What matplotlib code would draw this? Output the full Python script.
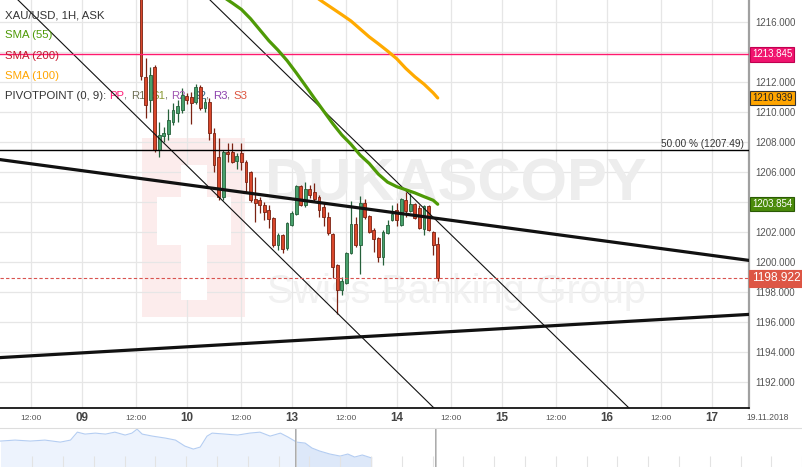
import numpy as np
import matplotlib.pyplot as plt

plt.rcParams['font.family'] = ['Liberation Sans', 'DejaVu Sans']

# hourly XAU/USD bars, index 0 = first bar on screen
bar_open = [1218.80, 1212.33, 1210.80, 1213.00, 1207.47, 1208.40, 1208.53, 1209.33, 1209.93, 1210.13,
            1211.07, 1211.00, 1210.67, 1211.67, 1210.27, 1210.67, 1208.60, 1207.00, 1204.33, 1207.33,
            1207.33, 1206.73, 1207.27, 1206.67, 1206.00, 1204.20, 1204.13, 1203.80, 1203.47, 1202.93,
            1201.13, 1201.80, 1200.93, 1202.47, 1203.20, 1205.07, 1203.80, 1204.87, 1204.67, 1204.33,
            1203.67, 1203.00, 1201.87, 1199.80, 1198.13, 1198.60, 1200.60, 1202.53, 1201.13, 1203.93,
            1203.07, 1202.13, 1201.60, 1200.33, 1201.93, 1202.80, 1203.47, 1202.47, 1204.13, 1203.40,
            1203.87, 1203.60, 1202.20, 1203.73, 1202.00, 1201.20]
bar_high = [1219.50, 1213.60, 1213.00, 1213.13, 1209.33, 1209.00, 1210.20, 1210.60, 1210.80, 1211.60,
            1211.27, 1211.33, 1211.87, 1211.80, 1210.93, 1210.93, 1208.93, 1208.27, 1207.47, 1207.93,
            1207.93, 1207.27, 1207.93, 1206.80, 1206.07, 1205.67, 1204.33, 1204.00, 1203.80, 1203.00,
            1201.93, 1201.87, 1202.67, 1203.40, 1205.13, 1205.13, 1205.33, 1205.13, 1205.27, 1204.47,
            1203.93, 1203.33, 1201.93, 1199.87, 1199.00, 1200.67, 1204.07, 1203.00, 1204.40, 1204.20,
            1203.13, 1202.27, 1201.67, 1202.13, 1202.80, 1203.80, 1203.93, 1204.27, 1204.67, 1204.60,
            1203.93, 1203.80, 1203.80, 1203.80, 1202.07, 1201.67]
bar_low = [1212.13, 1209.60, 1210.00, 1207.33, 1207.00, 1208.00, 1208.13, 1209.13, 1209.33, 1209.93,
           1210.53, 1209.20, 1210.53, 1210.13, 1210.00, 1208.13, 1206.00, 1204.13, 1204.13, 1206.67,
           1206.60, 1206.20, 1206.13, 1204.67, 1204.00, 1202.67, 1203.27, 1202.80, 1202.27, 1201.00,
           1200.80, 1200.60, 1200.80, 1202.40, 1203.13, 1203.73, 1203.67, 1204.27, 1204.00, 1203.00,
           1202.40, 1201.80, 1198.93, 1196.53, 1197.80, 1198.53, 1200.53, 1201.00, 1199.20, 1202.87,
           1201.93, 1200.67, 1200.00, 1199.80, 1201.87, 1202.73, 1202.40, 1202.40, 1203.00, 1203.33,
           1202.87, 1202.20, 1201.80, 1202.07, 1200.47, 1198.73]
bar_close = [1212.40, 1210.47, 1212.47, 1207.47, 1208.47, 1208.60, 1209.47, 1210.13, 1210.40, 1211.13,
             1210.80, 1210.60, 1211.67, 1210.27, 1210.67, 1208.60, 1206.47, 1204.33, 1207.33, 1207.20,
             1206.67, 1207.07, 1206.67, 1205.33, 1204.13, 1203.93, 1203.80, 1203.33, 1202.87, 1201.13,
             1201.80, 1200.87, 1202.60, 1203.27, 1205.07, 1203.80, 1204.87, 1204.47, 1204.20, 1203.47,
             1203.00, 1201.93, 1199.67, 1198.13, 1198.73, 1200.60, 1202.53, 1201.13, 1203.93, 1203.00,
             1202.00, 1201.53, 1200.33, 1202.00, 1202.47, 1203.20, 1202.80, 1204.20, 1203.40, 1203.87,
             1202.93, 1202.27, 1203.73, 1202.13, 1201.13, 1198.922]

sma55_x = [18, 20, 22, 24, 26, 28, 30, 32, 34, 36, 38, 40, 42, 44, 46, 48, 50, 52, 54, 56, 58, 60, 62, 64, 65]
sma55_y = [1217.68, 1217.27, 1216.84, 1216.22, 1215.49, 1214.76, 1214.13, 1213.43, 1212.62, 1211.77,
           1210.91, 1210.07, 1209.23, 1208.47, 1207.85, 1207.13, 1206.57, 1205.86, 1205.33, 1205.03,
           1204.82, 1204.61, 1204.36, 1204.12, 1203.854]
sma100_x = [38, 40, 42, 44, 46, 48, 50, 52, 54, 56, 58, 60, 62, 64, 65]
sma100_y = [1217.73, 1217.31, 1216.90, 1216.49, 1216.07, 1215.54, 1215.01, 1214.55, 1214.07, 1213.56,
            1212.91, 1212.35, 1211.86, 1211.28, 1210.939]

level_sma200 = 1213.845
level_fib50 = 1207.49
last_price = 1198.922

trend_down = [(-30.89, 1206.83), (133.19, 1200.11)]
trend_up = [(-30.89, 1193.63), (133.19, 1196.51)]
channel_lo = [(-26.94, 1217.47), (64.18, 1190.27)]
channel_hi = [(15.12, 1217.47), (106.9, 1190.27)]

tick_pos = [-24, -13, -1, 10, 22, 33, 45, 56, 68, 79, 91, 102, 114, 125]
tick_lab = ["12:00", "09", "12:00", "10", "12:00", "13", "12:00", "14",
            "12:00", "15", "12:00", "16", "12:00", "17"]
y_ticks = [1192, 1194, 1196, 1198, 1200, 1202, 1204, 1206, 1208, 1210, 1212, 1214, 1216]
y_hidden = [1204, 1214]   # covered by the price tags

# navigator (longer history)
nav_t = [-376, -359, -341, -324, -306, -294, -286, -277, -265, -253, -242, -230, -222, -216, -210,
         -198, -183, -171, -160, -150, -142, -134, -128, -113, -98, -84, -72, -60, -48, -39,
         -29, -19, -11, -2, 10, 22, 31, 39, 48, 59]
nav_v = [1220.5, 1221.6, 1220.5, 1221.6, 1219.3, 1221.6, 1230.6, 1228.4, 1229.5, 1228.4, 1230.6,
         1227.3, 1229.5, 1234.0, 1228.4, 1226.1, 1223.9, 1221.6, 1214.8, 1211.4, 1213.7, 1226.1,
         1229.5, 1228.4, 1227.3, 1229.5, 1230.6, 1226.1, 1229.5, 1225.0, 1219.3, 1218.2, 1212.6,
         1209.2, 1205.8, 1203.5, 1205.8, 1202.4, 1204.7, 1201.3]

legend_rows = [("XAU/USD, 1H, ASK", '#333333'), ("SMA (55)", '#4e9a06'),
               ("SMA (200)", '#c4172c'), ("SMA (100)", '#ffa500')]
pivot_parts = [("PP", '#ff1a75'), (", ", '#666666'), ("R1", '#6f6f55'), (", ", '#666666'),
               ("S1", '#8a9a35'), (", ", '#666666'), ("R2", '#a055b0'), (", ", '#666666'),
               ("S2", '#2e6585'), (", ", '#666666'), ("R3", '#8e44ad'), (", ", '#666666'),
               ("S3", '#dd5540')]

W, H = 803, 467
fig = plt.figure(figsize=(W / 100, H / 100), dpi=100)
ax = fig.add_axes([0, 59 / H, 749 / W, 408 / H])
ax.set_xlim(-30.89, 133.19)
ax.set_ylim(1190.27, 1217.47)

# watermark
ax.add_patch(plt.Rectangle((142 / 749, 1 - 317 / 408), 103 / 749, 179 / 408,
                           transform=ax.transAxes, fc='#fcecec', ec='none', zorder=0.5))
ax.add_patch(plt.Rectangle((181 / 749, 1 - 300 / 408), 26 / 749, 135 / 408,
                           transform=ax.transAxes, fc='white', ec='none', zorder=0.6))
ax.add_patch(plt.Rectangle((157 / 749, 1 - 245 / 408), 74 / 749, 48 / 408,
                           transform=ax.transAxes, fc='white', ec='none', zorder=0.6))
ax.text(265 / 749, 1 - 185 / 408, "DUKASCOPY", transform=ax.transAxes, ha='left', va='center',
        fontsize=43, fontweight='bold', color='#ededed', zorder=0.7)
ax.text(267 / 749, 1 - 292 / 408, "Swiss Banking Group", transform=ax.transAxes, ha='left',
        va='center', fontsize=28.5, color='#f1f1f1', zorder=0.7)

# grid and axes
ax.set_xticks(tick_pos)
ax.set_xticklabels([])
ax.set_yticks(y_ticks)
ax.set_yticklabels(["" if v in y_hidden else f"{v:.3f}" for v in y_ticks])
ax.yaxis.tick_right()
ax.tick_params(axis='x', length=0)
ax.tick_params(axis='y', length=0, pad=4.5, labelsize=7, labelcolor='#555555')
ax.grid(color='#e6e6e6', lw=0.9)
ax.set_axisbelow(True)
for s in ['left', 'top']:
    ax.spines[s].set_visible(False)
ax.spines['right'].set_color('#a0a0a0')
ax.spines['right'].set_linewidth(1.6)
ax.spines['bottom'].set_color('black')
ax.spines['bottom'].set_linewidth(1.2)

# candles
o = np.array(bar_open)
hi = np.array(bar_high)
lo = np.array(bar_low)
c = np.array(bar_close)
idx = np.arange(len(o))
up = c >= o
body = np.maximum(np.abs(c - o), 0.08)
base = np.minimum(o, c)
ax.vlines(idx[up], lo[up], hi[up], color='#25603a', lw=0.9, zorder=3)
ax.vlines(idx[~up], lo[~up], hi[~up], color='#7a2212', lw=0.9, zorder=3)
ax.bar(idx[up], body[up], bottom=base[up], width=0.62, color='#48a06c', edgecolor='#25603a',
       lw=0.6, zorder=4)
ax.bar(idx[~up], body[~up], bottom=base[~up], width=0.62, color='#d9472b', edgecolor='#7a2212',
       lw=0.6, zorder=4)

# drawn lines
for (p1, p2), lw in [(trend_down, 2.3), (trend_up, 2.3), (channel_lo, 0.8), (channel_hi, 0.8)]:
    ax.axline(p1, p2, color='#111111', lw=lw, zorder=5)
ax.axhline(level_sma200, color='#ff1a6e', lw=1.0, zorder=5)
ax.axhline(level_fib50, color='black', lw=1.0, zorder=5)
ax.axhline(last_price, color='#d9534f', lw=0.8, ls=(0, (3, 2)), zorder=5)
ax.plot(sma55_x, sma55_y, color='#4e9a06', lw=2.3, zorder=6, solid_capstyle='round')
ax.plot(sma100_x, sma100_y, color='#ffaa00', lw=2.3, zorder=6, solid_capstyle='round')

ytr = ax.get_yaxis_transform()
ax.text(1 - 5 / 749, level_fib50 + 0.2, "50.00 % (1207.49)", transform=ytr, ha='right',
        va='baseline', fontsize=7.2, color='#333333', zorder=7)

# price tags on the right
def price_tag(val, fc, tc, ec, size=7.0):
    ax.text(1.004, val, f"{val:.3f}", transform=ytr, ha='left', va='center', fontsize=size,
            color=tc, zorder=20, clip_on=False,
            bbox=dict(boxstyle='square,pad=0.22', fc=fc, ec=ec, lw=0.8))

price_tag(level_sma200, '#f0146e', 'white', '#c00050')
price_tag(sma100_y[-1], '#ffa500', '#222222', '#333333')
price_tag(sma55_y[-1], '#4b8b0b', 'white', '#2a5a05')
price_tag(last_price, '#dd5544', 'white', '#dd5544', size=8.6)

# x labels
xtr = ax.get_xaxis_transform()
for t, lab in zip(tick_pos, tick_lab):
    if ':' in lab:
        ax.text(t, -10 / 408, lab, transform=xtr, ha='center', va='center', fontsize=6,
                color='#555555', clip_on=False)
    else:
        ax.text(t, -10 / 408, lab, transform=xtr, ha='center', va='center', fontsize=8.4,
                fontweight='bold', color='#444444', clip_on=False)
fig.text(768 / W, 1 - 418 / H, "19.11.2018", ha='center', va='center', fontsize=6.2,
         color='#555555')

# legend rows
for k, (s, col) in enumerate(legend_rows):
    fig.text(5 / W, 1 - (15 + 20.3 * k) / H, s, ha='left', va='center', fontsize=8.2, color=col)
prev = fig.text(5 / W, 1 - 96 / H, "PIVOTPOINT (0, 9): ", ha='left', va='center', fontsize=8.2,
                color='#333333')
for s, col in pivot_parts:
    prev = ax.annotate(s, xy=(1, 0), xycoords=prev, xytext=(0, 0), textcoords='offset points',
                       va='bottom', ha='left', fontsize=8.2, color=col, annotation_clip=False)

# navigator
nav = fig.add_axes([0, 0, 1, 39 / H])
nav.set_xlim(-376.65, 564.5)
nav.set_ylim(1191.1, 1235.3)
nt = np.array(nav_t)
nv = np.array(nav_v)
nav.fill_between(nt, nv, 1191.1, color='#edf3fd', lw=0)
sel = nt >= -31
nav.fill_between(nt[sel], nv[sel], 1191.1, color='#dde8f9', lw=0)
nav.plot(nt, nv, color='#b4cdf2', lw=0.8)
nav.vlines(np.arange(-339, 565, 36.1), 1191.1, 1203.5, color='#e3e3e3', lw=0.8)
for xv in (-30.89, 133.19):
    nav.axvline(xv, color='#aaaaaa', lw=0.7)
    nav.axvline(xv + 1.4, color='#cccccc', lw=0.7)
nav.set_xticks([])
nav.set_yticks([])
for s in ['left', 'right', 'bottom']:
    nav.spines[s].set_visible(False)
nav.spines['top'].set_color('#dddddd')
nav.spines['top'].set_linewidth(0.8)

fig.savefig('out.png', dpi=100)
